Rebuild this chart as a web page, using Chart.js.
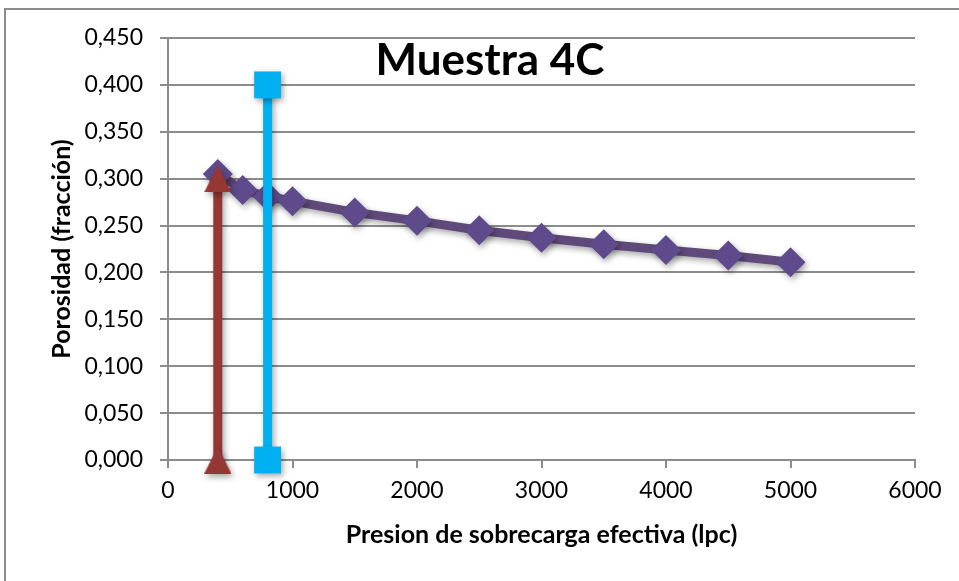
<!DOCTYPE html>
<html>
<head>
<meta charset="utf-8">
<script src="https://cdn.jsdelivr.net/npm/chart.js@4"></script>
<style>
  body { margin: 0; background: #fff; }
  #wrap { position: relative; width: 959px; height: 581px; overflow: hidden; }
  #frame { position: absolute; left: 4px; top: 8px; width: 980px; height: 620px; border: 2px solid #8c8c8c; box-sizing: border-box; }
  #chart { position: absolute; left: 0; top: 0; }
</style>
</head>
<body>
<div id="wrap">
  <div id="frame"></div>
  <canvas id="chart" width="959" height="581"></canvas>
</div>
<script>
'use strict'

// datos de la muestra 4C
const presion = [400, 600, 800, 1000, 1500, 2000, 2500, 3000, 3500, 4000, 4500, 5000]
const porosidad = [0.305, 0.288, 0.281, 0.276, 0.264, 0.255, 0.245, 0.237, 0.230, 0.224, 0.218, 0.211]

// lineas verticales (flecha roja y linea azul)
const flechaX = [400, 400]
const flechaY = [0, 0.30]
const lineaX = [800, 800]
const lineaY = [0, 0.40]

const titulo = 'Muestra 4C'
const tituloX = 'Presion de sobrecarga efectiva (lpc)'
const tituloY = 'Porosidad (fracción)'

const fuente = 'Lato, "Open Sans", sans-serif'
const gris = '#8c8c8c'

// triangulo centrado (como el marcador de Excel)
function triangulo(color, w, h) {
  const c = document.createElement('canvas')
  c.width = w
  c.height = h
  const g = c.getContext('2d')
  g.fillStyle = color
  g.beginPath()
  g.moveTo(w / 2, 0)
  g.lineTo(w, h)
  g.lineTo(0, h)
  g.closePath()
  g.fill()
  return c
}
const triRojo = triangulo('#953735', 27, 27)

const sombra = {
  id: 'sombra',
  beforeDatasetsDraw(chart) {
    const ctx = chart.ctx
    ctx.save()
    ctx.shadowColor = 'rgba(0,0,0,0.35)'
    ctx.shadowBlur = 6
    ctx.shadowOffsetX = 2
    ctx.shadowOffsetY = 3
  },
  afterDatasetsDraw(chart) {
    chart.ctx.restore()
  }
}

const tituloPlugin = {
  id: 'tituloDentro',
  afterDraw(chart) {
    const ctx = chart.ctx
    const a = chart.chartArea
    ctx.save()
    ctx.font = 'bold 44px ' + fuente
    ctx.fillStyle = '#000'
    ctx.textAlign = 'center'
    ctx.textBaseline = 'middle'
    ctx.fillText(titulo, a.left + a.width * 0.431, 61)
    ctx.restore()
  }
}

const ctx = document.getElementById('chart')

const myChart = new Chart(ctx, {
  type: 'scatter',
  data: {
    datasets: [{
      data: presion.map((x, i) => ({ x: x, y: porosidad[i] })),
      showLine: true,
      clip: false,
      borderColor: '#604a7b',
      backgroundColor: '#604a7b',
      borderWidth: 9,
      pointStyle: 'rectRot',
      pointRadius: 15,
      pointBackgroundColor: '#5f4a8b',
      pointBorderWidth: 0,
      order: 2
    }, {
      data: flechaX.map((x, i) => ({ x: x, y: flechaY[i] })),
      showLine: true,
      clip: false,
      borderColor: '#953735',
      borderWidth: 9,
      pointStyle: triRojo,
      pointRadius: 14,
      order: 1
    }, {
      data: lineaX.map((x, i) => ({ x: x, y: lineaY[i] })),
      showLine: true,
      clip: false,
      borderColor: '#00b0f0',
      backgroundColor: '#00b0f0',
      borderWidth: 9,
      pointStyle: 'rect',
      pointRadius: 19,
      pointBorderWidth: 0,
      order: 0
    }]
  },
  options: {
    responsive: false,
    animation: false,
    layout: {
      padding: { top: 38, right: 44, left: 0, bottom: 0 }
    },
    plugins: {
      legend: { display: false },
      tooltip: { enabled: false }
    },
    scales: {
      x: {
        type: 'linear',
        min: 0,
        max: 6000,
        afterFit(scale) { scale.height = 121 },
        ticks: {
          stepSize: 1000,
          padding: 9,
          color: '#000',
          font: { family: fuente, size: 23 },
          callback: v => String(v)
        },
        grid: {
          drawOnChartArea: false,
          drawTicks: true,
          tickLength: 8,
          color: gris,
          lineWidth: 2
        },
        border: { color: gris, width: 2 },
        title: {
          display: true,
          text: tituloX,
          color: '#000',
          font: { family: fuente, size: 25, weight: 'bold' },
          padding: { top: 0, bottom: 31 }
        }
      },
      y: {
        min: 0,
        max: 0.45,
        afterFit(scale) { scale.width = 168 },
        ticks: {
          stepSize: 0.05,
          padding: 17,
          color: '#000',
          font: { family: fuente, size: 23 },
          callback: v => v.toFixed(3).replace('.', ',')
        },
        grid: {
          tickLength: 8,
          color: gris,
          lineWidth: 2
        },
        border: { color: gris, width: 2 },
        title: {
          display: true,
          text: tituloY,
          color: '#000',
          font: { family: fuente, size: 25, weight: 'bold' },
          padding: { top: 47, bottom: 0 }
        }
      }
    }
  },
  plugins: [sombra, tituloPlugin]
})
</script>
</body>
</html>
